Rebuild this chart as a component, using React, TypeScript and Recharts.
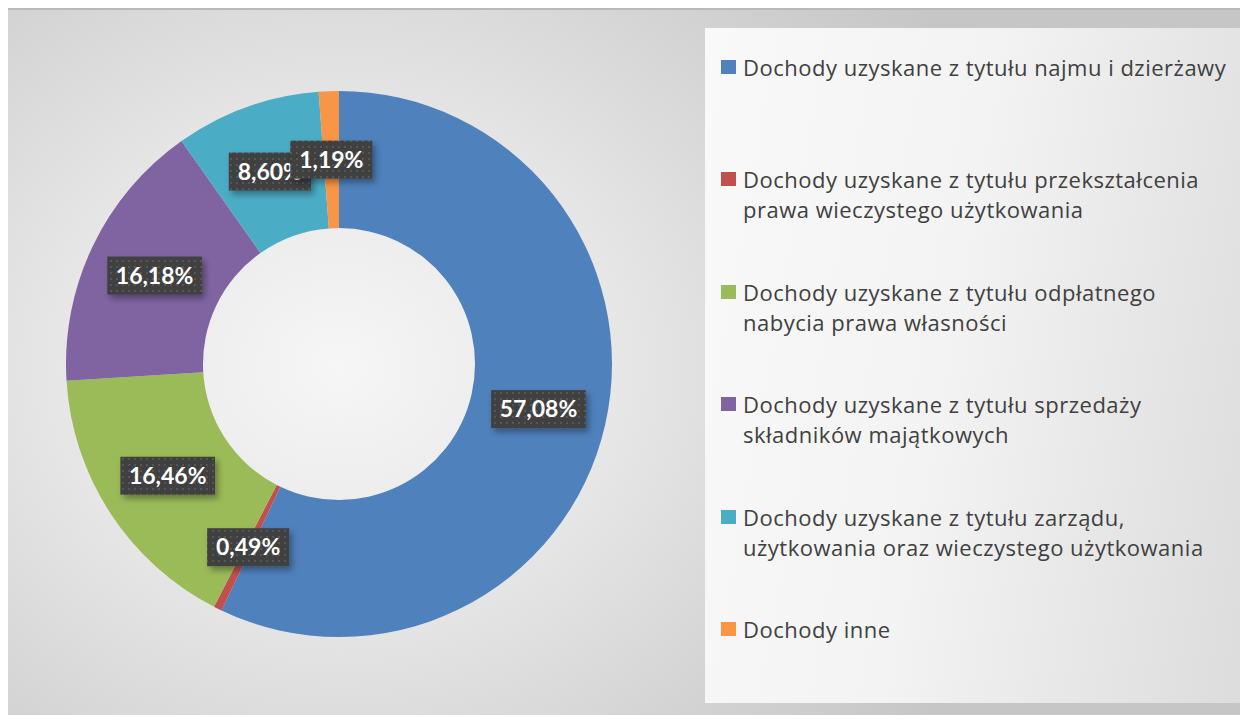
import { Pie, PieChart, Cell } from "recharts";

const categories = [
  "Dochody uzyskane z tytułu najmu i dzierżawy",
  "Dochody uzyskane z tytułu przekształcenia\nprawa wieczystego użytkowania",
  "Dochody uzyskane z tytułu odpłatnego\nnabycia prawa własności",
  "Dochody uzyskane z tytułu sprzedaży\nskładników majątkowych",
  "Dochody uzyskane z tytułu zarządu,\nużytkowania oraz wieczystego użytkowania",
  "Dochody inne",
];
const shares = [57.08, 0.49, 16.46, 16.18, 8.6, 1.19];
const colors = ["#4f81bd", "#c0504d", "#9bbb59", "#8064a2", "#4bacc6", "#f79646"];

const data = categories.map((name, i) => ({ name, value: shares[i] }));

const RAD = Math.PI / 180;

const charW = (c: string) => (c === "," ? 5.8 : c === "%" ? 18.5 : 12.6);

function renderLabel(props: any) {
  const { cx, cy, midAngle, innerRadius, outerRadius, value } = props;
  const r = (innerRadius + outerRadius) / 2;
  const x = cx + r * Math.cos(-midAngle * RAD);
  const y = cy + r * Math.sin(-midAngle * RAD);
  const text = value.toFixed(2).replace(".", ",") + "%";
  const w = text.split("").reduce((s: number, c: string) => s + charW(c), 0) + 20;
  const h = 38;
  return (
    <g>
      <rect x={x - w / 2} y={y - h / 2} width={w} height={h} fill="url(#dots)" filter="url(#lblShadow)" />
      <text
        x={x}
        y={y}
        dy={8}
        textAnchor="middle"
        fill="#ffffff"
        fontFamily="Lato, 'Open Sans', sans-serif"
        fontWeight={700}
        fontSize={23}
      >
        {text}
      </text>
    </g>
  );
}

export default function App() {
  return (
    <div style={{ position: "relative", width: 1248, height: 723, margin: -8, background: "#ffffff", overflow: "hidden" }}>
      <div
        style={{
          position: "absolute",
          left: 7,
          top: 8,
          width: 1241,
          height: 715,
          borderTop: "2px solid #b9b9b9",
          boxSizing: "border-box",
          background: "radial-gradient(ellipse 720px 620px at 332px 356px, #f6f6f6 0%, #e6e6e6 40%, #d2d2d2 75%, #c6c6c6 100%)",
        }}
      />
      <div
        style={{
          position: "absolute",
          left: 705,
          top: 28,
          width: 538,
          height: 675,
          background: "linear-gradient(100deg, #f9f9f9 0%, #f3f3f3 45%, #dcdcdc 100%)",
        }}
      />
      <div style={{ position: "absolute", left: 0, top: 0 }}>
        <PieChart width={1248} height={723} margin={{ top: 0, right: 0, bottom: 0, left: 0 }}>
          <defs>
            <pattern id="dots" width="6" height="6" patternUnits="userSpaceOnUse">
              <rect width="6" height="6" fill="#404040" />
              <rect x="2" y="2" width="2" height="2" fill="#565656" />
            </pattern>
            <filter id="lblShadow" x="-20%" y="-30%" width="150%" height="180%">
              <feDropShadow dx="3" dy="4" stdDeviation="3" floodColor="#000" floodOpacity="0.35" />
            </filter>
          </defs>
          <Pie
            data={data}
            dataKey="value"
            nameKey="name"
            cx={339}
            cy={364}
            innerRadius={136}
            outerRadius={273}
            startAngle={90}
            endAngle={-270}
            stroke="none"
            label={renderLabel}
            labelLine={false}
            isAnimationActive={false}
          >
            {data.map((d, i) => (
              <Cell key={d.name} fill={colors[i]} />
            ))}
          </Pie>
        </PieChart>
      </div>
      {categories.map((name, i) => (
        <div
          key={name}
          style={{
            position: "absolute",
            left: 721,
            top: 52 + i * 112.4,
            display: "flex",
            alignItems: "flex-start",
            fontFamily: "'Open Sans', sans-serif",
            fontSize: 22,
            letterSpacing: 0.5,
            lineHeight: "30px",
            color: "#404040",
            whiteSpace: "pre-line",
          }}
        >
          <span style={{ width: 15, height: 14, marginTop: 8, marginRight: 7, background: colors[i], flexShrink: 0 }} />
          <span>{name}</span>
        </div>
      ))}
    </div>
  );
}
